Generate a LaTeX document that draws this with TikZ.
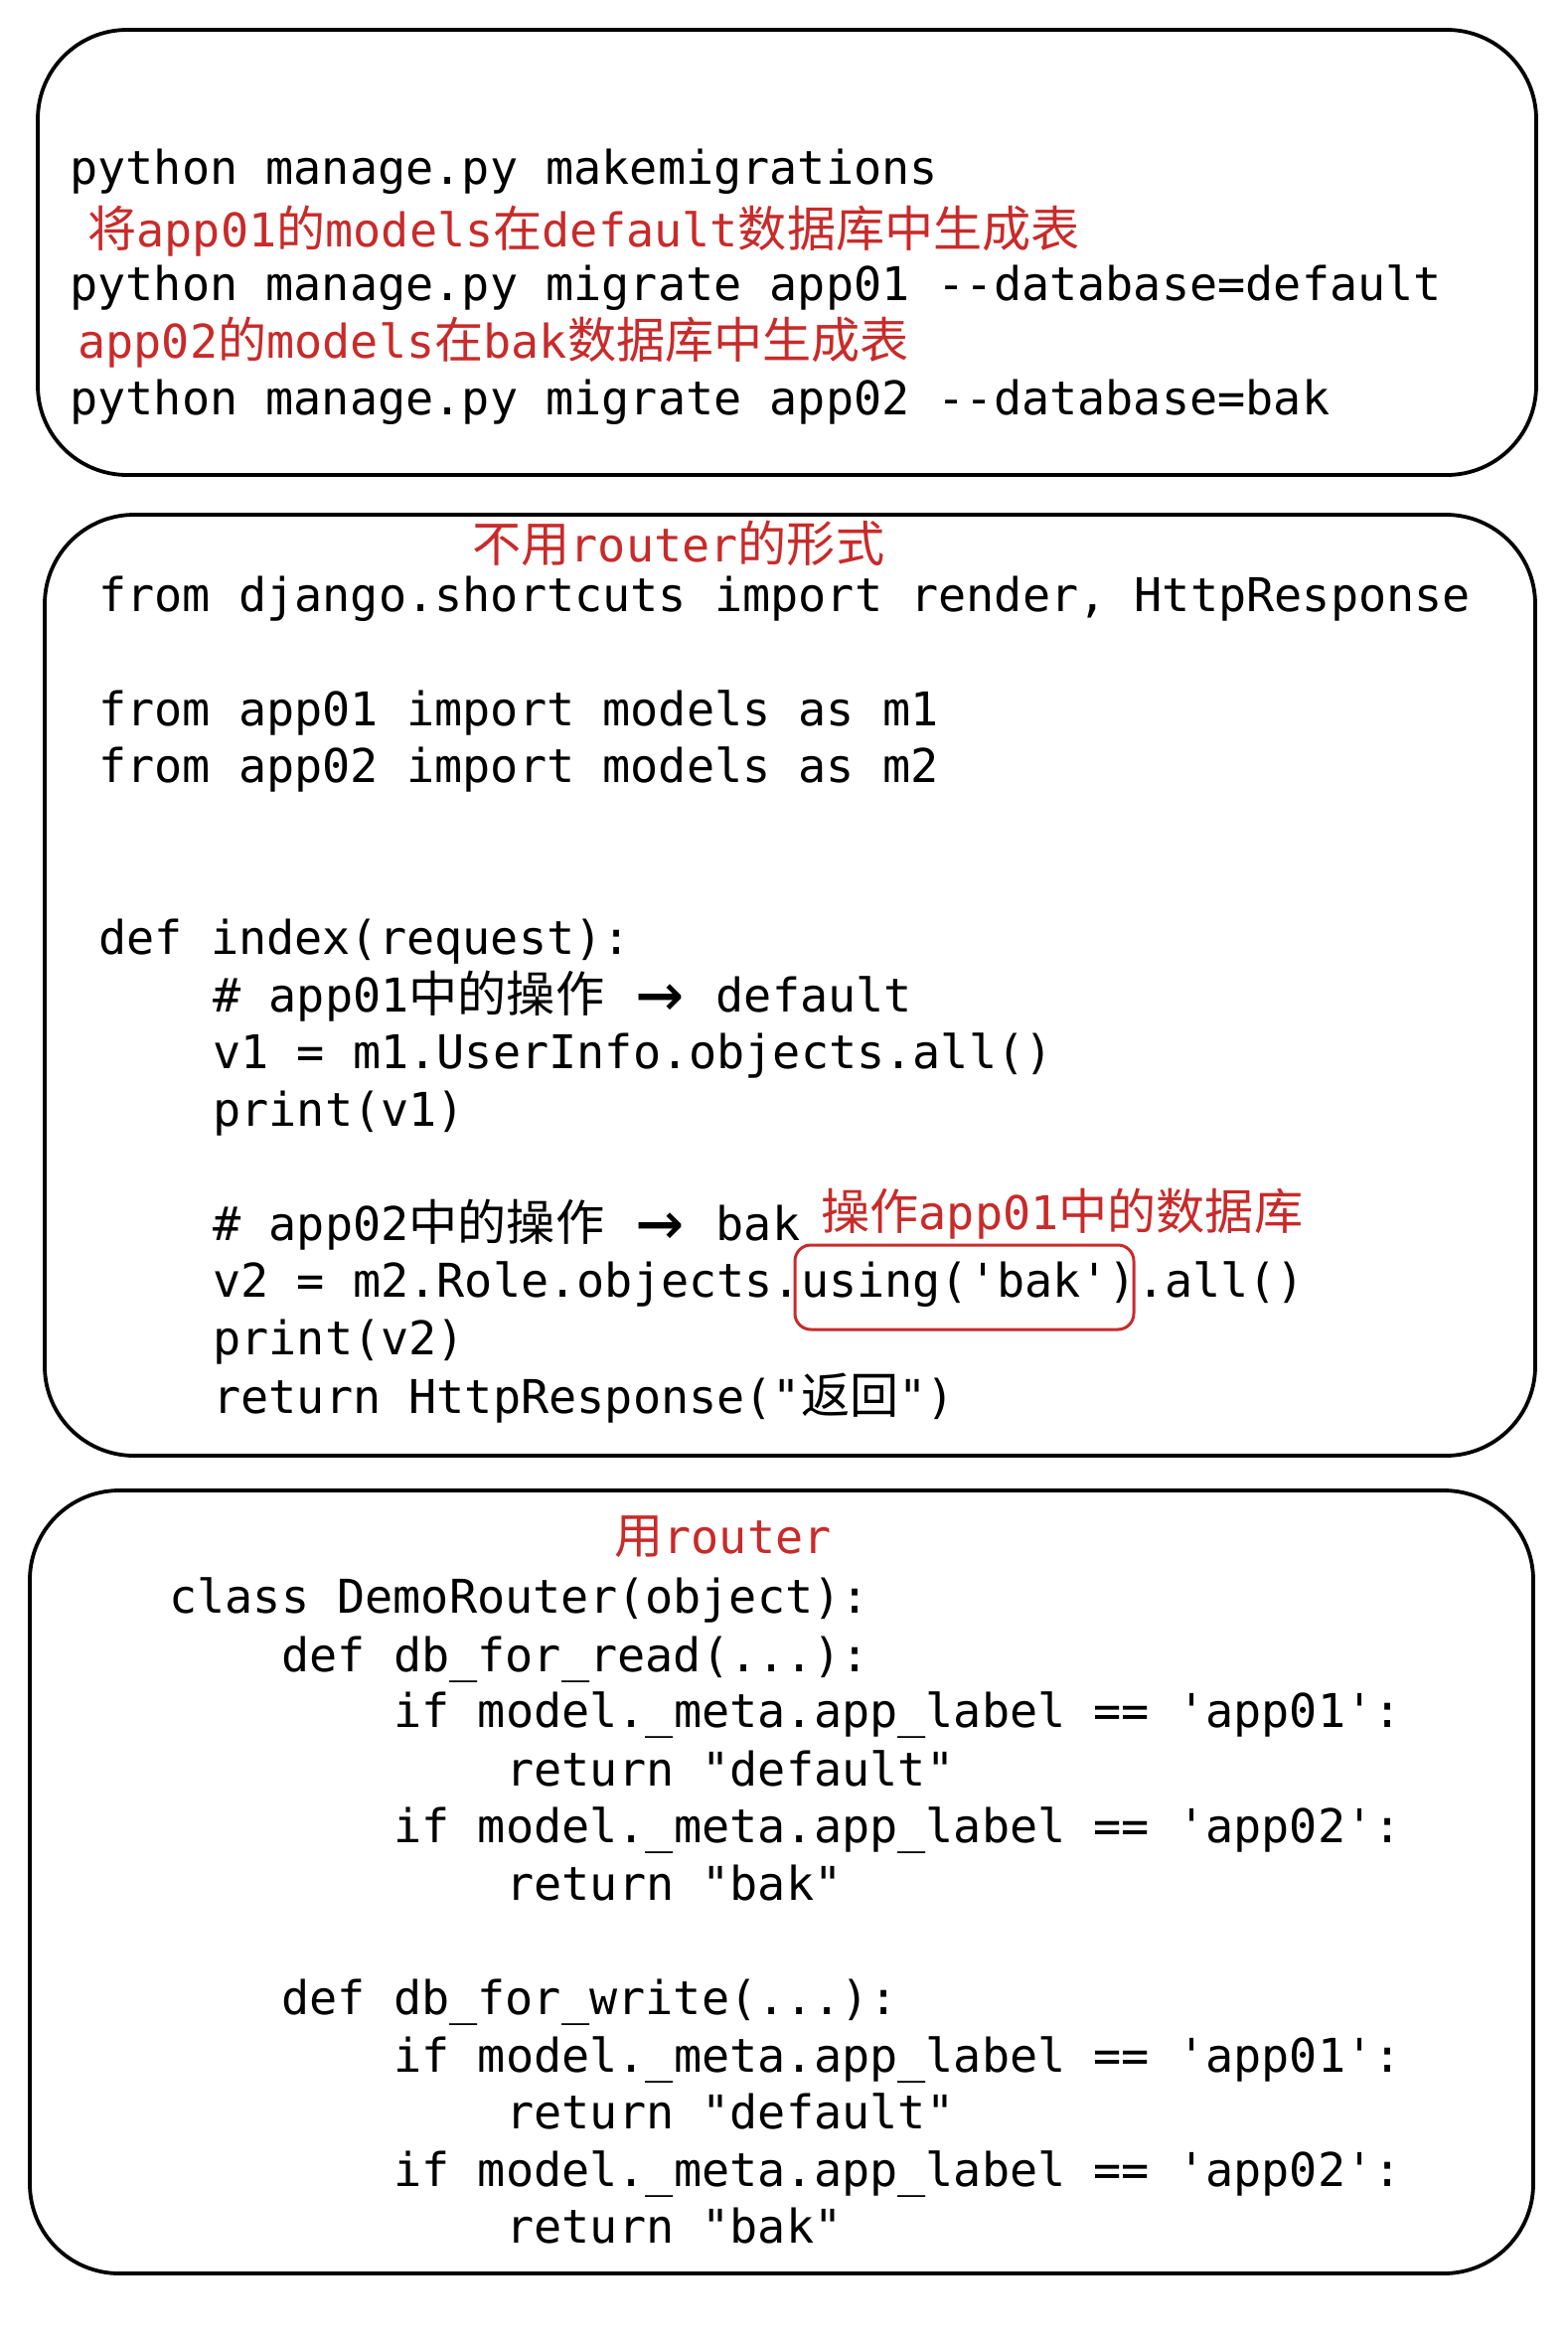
\documentclass[tikz,border=0pt]{standalone}
\usepackage{fontspec}
\usepackage{xcolor}
\usepackage{tikz}
\setmonofont{DejaVu Sans Mono}
\newfontfamily\cjkfont[Scale=1.05]{Noto Sans CJK SC}
\definecolor{noteRed}{RGB}{201,42,42}
\newcommand\zh[1]{{\cjkfont #1}}
\newcommand\us{\symbol{95}}
\newcommand\arw{\makebox[1.2em]{\raisebox{-0.16em}{\scalebox{1.7}{→}}}}
\tikzset{
  frame/.style = {
      draw,
      line width=1.9pt,
      rounded corners=45pt
  },
  code/.style = {
      anchor=base west,
      inner sep=0pt,
      font=\fontsize{23.4}{28}\selectfont\ttfamily
  },
  note/.style = {
      code,
      text=noteRed
  },
  mark box/.style = {
      draw=noteRed,
      line width=1.5pt,
      rounded corners=8pt
  }
}

\begin{document}
\begin{tikzpicture}[x=0.5pt, y=-0.5pt]
    \useasboundingbox (0,0) rectangle (1578,2357);
    % Migrations
    \draw[frame] (38,30) rectangle (1546,478);
    \node[code] (mk) at (70,185) {python manage.py makemigrations};
    \node[note] (n1) at (88,248) {\zh{将}app01\zh{的}models\zh{在}default\zh{数据库中生成表}};
    \node[code] (mg1) at (70,302) {python manage.py migrate app01 --database=default};
    \node[note] (n2) at (78,360) {app02\zh{的}models\zh{在}bak\zh{数据库中生成表}};
    \node[code] (mg2) at (70,417) {python manage.py migrate app02 --database=bak};
    % Without router
    \draw[frame] (45,518) rectangle (1545,1465);
    \node[note] (t1) at (475,565) {\zh{不用}router\zh{的形式}};
    \node[code] (imp) at (99,615) {from django.shortcuts import render, HttpResponse};
    \node[code] (imp1) at (99,730) {from app01 import models as m1};
    \node[code] (imp2) at (99,787) {from app02 import models as m2};
    \node[code] (idx) at (99,960) {def index(request):};
    \node[code] (c1) at (214,1018) {\# app01\zh{中的操作} \arw{} default};
    \node[code] (v1) at (214,1075) {v1 = m1.UserInfo.objects.all()};
    \node[code] (p1) at (214,1133) {print(v1)};
    \node[code] (c2) at (214,1248) {\# app02\zh{中的操作} \arw{} bak};
    \node[note] (n3) at (826,1237) {\zh{操作}app01\zh{中的数据库}};
    \node[code] (v2) at (214,1305) {v2 = m2.Role.objects.using('bak').all()};
    \node[code] (p2) at (214,1363) {print(v2)};
    \node[code] (ret) at (214,1422) {return HttpResponse("\zh{返回}")};
    \draw[mark box] (800,1253) rectangle (1141,1338);
    % With router
    \draw[frame] (30,1500) rectangle (1543,2288);
    \node[note] (t2) at (618,1563) {\zh{用}router};
    \node[code] (cls) at (170,1623) {class DemoRouter(object):};
    \node[code] (rd) at (283,1682) {def db\us for\us read(...):};
    \node[code] (rd1) at (396,1738) {if model.\us meta.app\us label == 'app01':};
    \node[code] (rd2) at (509,1797) {return "default"};
    \node[code] (rd3) at (396,1854) {if model.\us meta.app\us label == 'app02':};
    \node[code] (rd4) at (509,1912) {return "bak"};
    \node[code] (wr) at (283,2027) {def db\us for\us write(...):};
    \node[code] (wr1) at (396,2085) {if model.\us meta.app\us label == 'app01':};
    \node[code] (wr2) at (509,2142) {return "default"};
    \node[code] (wr3) at (396,2200) {if model.\us meta.app\us label == 'app02':};
    \node[code] (wr4) at (509,2257) {return "bak"};
\end{tikzpicture}
\end{document}
